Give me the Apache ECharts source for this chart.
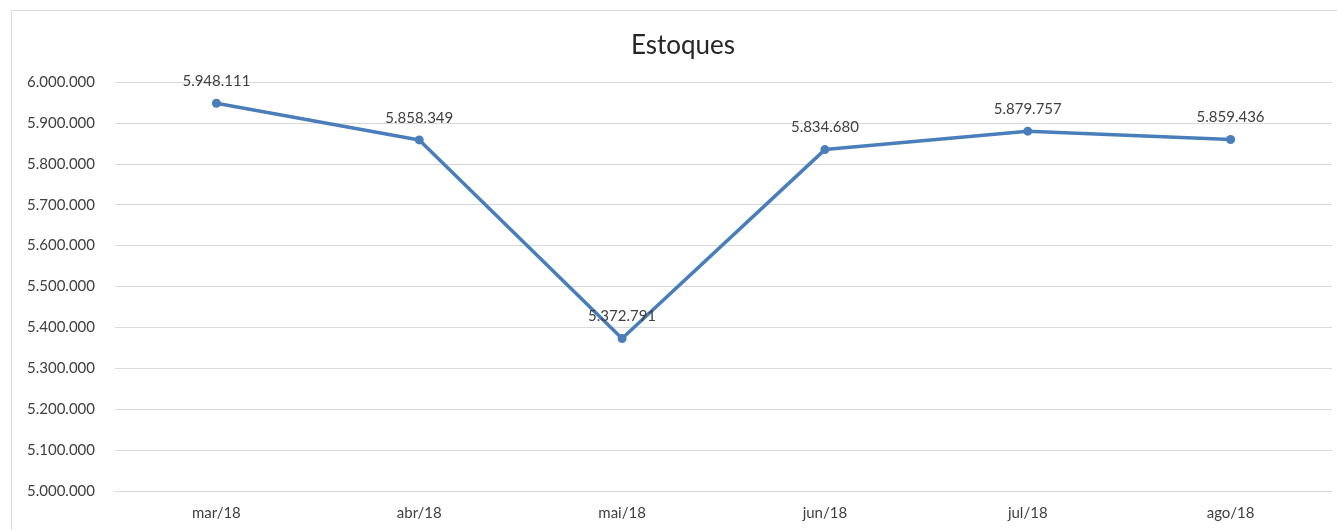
<!DOCTYPE html>
<html><head><meta charset="utf-8">
<script src="https://cdn.jsdelivr.net/npm/echarts@6/dist/echarts.min.js"></script>
<style>html,body{margin:0;padding:0;background:#fff}#c{width:1337px;height:530px}</style>
</head><body><div id="c"></div>
<script>
const categories = ['mar/18','abr/18','mai/18','jun/18','jul/18','ago/18'];
const estoques = [5948111, 5858349, 5372791, 5834680, 5879757, 5859436];
const yTicks = {min: 5000000, max: 6000000, interval: 100000};

function fmt(v){ return String(Math.round(v)).replace(/\B(?=(\d{3})+(?!\d))/g,'.'); }

const chart = echarts.init(document.getElementById('c'));
chart.setOption({
  animation:false,
  backgroundColor:'#fff',
  textStyle:{fontFamily:'Lato'},
  title:{text:'Estoques', left:626, top:28, textStyle:{fontFamily:'Lato', fontSize:26, fontWeight:'normal', color:'#262626'}},
  graphic:[{type:'rect', shape:{x:11.5,y:10.5,width:1340,height:540}, style:{fill:'none', stroke:'#d9d9d9', lineWidth:1}, silent:true}],
  grid:{left:115, right:5, top:82, bottom:39},
  xAxis:{type:'category', data:categories, boundaryGap:true,
    axisLine:{show:true, lineStyle:{color:'#d9d9d9'}}, axisTick:{show:false},
    axisLabel:{color:'#404040', fontSize:15, margin:15, fontFamily:'Lato'}},
  yAxis:{type:'value', min:yTicks.min, max:yTicks.max, interval:yTicks.interval,
    axisLine:{show:false}, axisTick:{show:false},
    splitLine:{lineStyle:{color:'#d9d9d9', width:1}},
    axisLabel:{color:'#404040', fontSize:15, margin:20, fontFamily:'Lato', formatter:fmt}},
  series:[{type:'line', data:estoques, color:'#4a7ebb',
    lineStyle:{width:3.5, color:'#4a7ebb'}, symbol:'circle', symbolSize:9,
    itemStyle:{color:'#4a7ebb'},
    label:{show:true, position:'top', distance:10, color:'#404040', fontSize:15, fontFamily:'Lato', formatter:p=>fmt(p.value)}}]
});
</script></body></html>
